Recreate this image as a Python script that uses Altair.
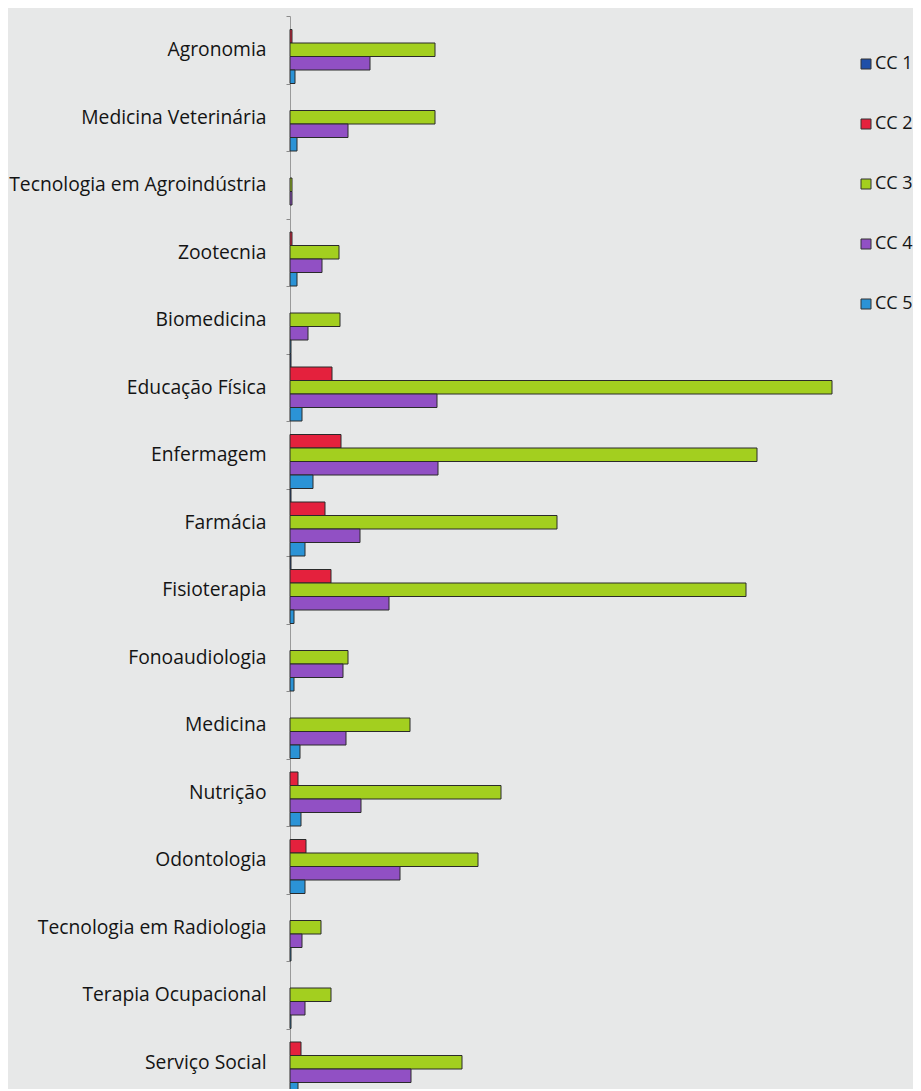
import altair as alt
import pandas as pd

categories = ["Agronomia", "Medicina Veterinária", "Tecnologia em Agroindústria",
              "Zootecnia", "Biomedicina", "Educação Física", "Enfermagem",
              "Farmácia", "Fisioterapia", "Fonoaudiologia", "Medicina",
              "Nutrição", "Odontologia", "Tecnologia em Radiologia",
              "Terapia Ocupacional", "Serviço Social"]
series = ["CC 1", "CC 2", "CC 3", "CC 4", "CC 5"]
cc1 = [0, 0, 0, 0, 0, 1, 0, 1, 1, 0, 0, 0, 0, 0, 0, 0]
cc2 = [2, 0, 0, 2, 0, 42, 51, 35, 41, 0, 0, 8, 16, 0, 0, 11]
cc3 = [145, 145, 2, 49, 50, 542, 467, 267, 456, 58, 120, 211, 188, 31, 41, 172]
cc4 = [80, 58, 2, 32, 18, 147, 148, 70, 99, 53, 56, 71, 110, 12, 15, 121]
cc5 = [5, 7, 0, 7, 1, 12, 23, 15, 4, 4, 10, 11, 15, 1, 1, 8]
colors = ["#1f4fa8", "#e4213d", "#a3cf1f", "#9150c4", "#2b93d6"]

rows = []
for s, vals in zip(series, [cc1, cc2, cc3, cc4, cc5]):
    for c, v in zip(categories, vals):
        rows.append({"curso": c, "serie": s, "valor": v})
df = pd.DataFrame(rows)
df = df[df["valor"] > 0]

chart = alt.Chart(df).mark_bar(stroke="#2a2a2a", strokeWidth=1).encode(
    y=alt.Y("curso:N", sort=categories,
            scale=alt.Scale(domain=categories, paddingInner=0, paddingOuter=0,
                            range=[0, 1080]),
            axis=alt.Axis(title=None, tickBand="extent", tickSize=4,
                          tickColor="#8a8a8a", domainColor="#9a9a9a",
                          labelFont="Open Sans", labelFontSize=19.3,
                          labelColor="#141414", labelPadding=20, labelLimit=400)),
    yOffset=alt.YOffset("serie:N", sort=series,
                        scale=alt.Scale(domain=series, paddingInner=0, paddingOuter=0)),
    x=alt.X("valor:Q", scale=alt.Scale(domain=[0, 560]), axis=None),
    color=alt.Color("serie:N", scale=alt.Scale(domain=series, range=colors),
                    legend=alt.Legend(title=None, orient="none", legendX=567, legendY=39,
                                      symbolType="square", symbolSize=100,
                                      symbolStrokeColor="#333333", symbolStrokeWidth=1,
                                      labelFont="Open Sans", labelFontSize=18,
                                      labelColor="#141414", rowPadding=42,
                                      labelOffset=0)),
).properties(
    width=560, height=1073,
    padding={"left": 282, "top": 8, "right": 63, "bottom": 0},
    autosize="none", background="#e7e8e8"
).configure_view(stroke=None)

chart.save("out.html", embed_options={"renderer": "svg", "actions": False})
